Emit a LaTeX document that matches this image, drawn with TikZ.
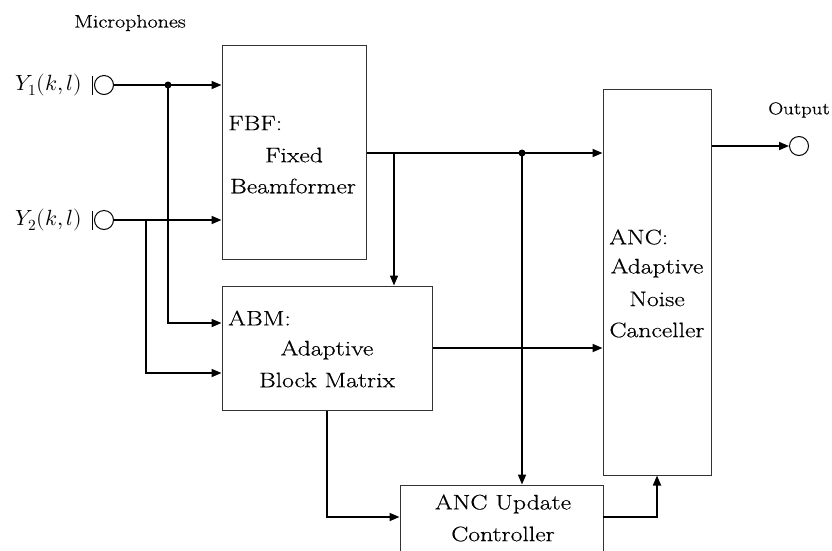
\documentclass[tikz,border=0pt]{standalone}
\usepackage{fontspec}
\usepackage{unicode-math}
\setmainfont{Latin Modern Roman}[FakeStretch=1.22,FakeBold=0.5]
\usetikzlibrary{arrows.meta}
\begin{document}
\begin{tikzpicture}[x=1pt,y=-1pt,
  box/.style={draw=black!80,line width=1pt,inner sep=0pt},
  conn/.style={line width=1.7pt,line cap=butt},
  arr/.style={conn,-{Triangle[length=10pt,width=8pt]}},
  txt/.style={inner sep=0pt,font=\fontsize{21}{25}\selectfont},
  dotn/.style={circle,fill=black,inner sep=0pt,minimum size=7pt},
  mic/.style={circle,draw=black,line width=1pt,inner sep=0pt,minimum size=19pt}]
\clip (0,0) rectangle (832,550);
% boxes
\node[box,minimum width=144pt,minimum height=214pt] (fbf) at (294,152) {};
\node[box,minimum width=210pt,minimum height=124pt] (abm) at (327,348) {};
\node[box,minimum width=108pt,minimum height=386pt] (anc) at (657,282) {};
\node[box,minimum width=203pt,minimum height=95pt] (upd) at (501.5,532.5) {};
% texts
\node[txt] (mictxt) at (130,23) {\fontsize{18}{22}\selectfont Microphones};
\node[txt] (y1) at (49,85) {\fontsize{22}{26}\selectfont $Y_1(k,l)$};
\node[txt] (y2) at (49,220) {\fontsize{22}{26}\selectfont $Y_2(k,l)$};
\node[txt] (outtxt) at (799,110) {\fontsize{17}{22}\selectfont Output};
\node[txt,anchor=west] (fbf1) at (228,123) {FBF:};
\node[txt] (fbf2) at (294,155) {Fixed};
\node[txt] (fbf3) at (293,186) {Beamformer};
\node[txt,anchor=west] (abm1) at (228,318) {ABM:};
\node[txt] (abm2) at (327,350) {Adaptive};
\node[txt] (abm3) at (327,380) {Block Matrix};
\node[txt,anchor=west] (anc1) at (609,237) {ANC:};
\node[txt] (anc2) at (657,268) {Adaptive};
\node[txt] (anc3) at (657,299) {Noise};
\node[txt] (anc4) at (657,330) {Canceller};
\node[txt] (upd1) at (503,504) {ANC Update};
\node[txt] (upd2) at (503,534) {Controller};
% microphones
\node[mic] (m1) at (104,85) {};
\node[mic] (m2) at (104,220) {};
\coordinate (b1t) at (92,76); \coordinate (b1b) at (92,95);
\coordinate (b2t) at (92,211); \coordinate (b2b) at (92,230);
\draw[line width=1pt] (b1t) -- (b1b);
\draw[line width=1pt] (b2t) -- (b2b);
\node[mic] (out) at (799,146) {};
% junctions
\node[dotn] (d1) at (168,85) {};
\node[dotn] (d2) at (522,153) {};
\coordinate (j2) at (146,220);
\coordinate (j3) at (394,153);
% connectors
\draw[arr] (m1.east) -- (m1.east -| fbf.west);
\draw[arr] (m2.east) -- (m2.east -| fbf.west);
\draw[arr] (d1.center) -- (168,323) -- (abm.west |- 168,323);
\draw[arr] (j2) -- (146,373) -- (abm.west |- 146,373);
\draw[arr] (fbf.east |- j3) -- (j3 -| anc.west);
\draw[arr] (j3) -- (j3 |- abm.north);
\draw[arr] (d2.center) -- (d2.center |- upd.north);
\draw[arr] (abm.east) -- (abm.east -| anc.west);
\draw[arr] (abm.south) -- (327,517) -- (327,517 -| upd.west);
\draw[arr] (upd.west |- 0,517) ++(203,0) -- (657,517) -- (anc.south);
\draw[arr] (anc.east |- out) -- (out.west);
\end{tikzpicture}
\end{document}
